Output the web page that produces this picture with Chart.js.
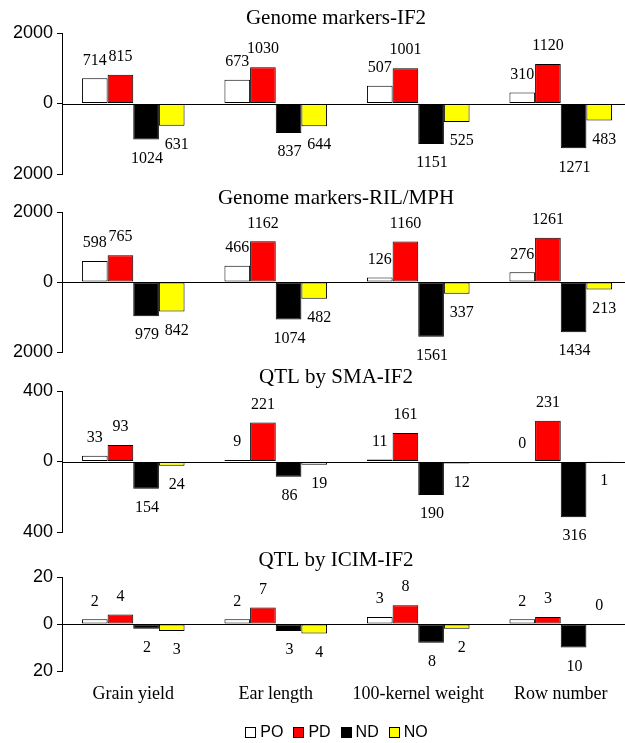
<!DOCTYPE html>
<html>
<head>
<meta charset="utf-8">
<script src="https://cdn.jsdelivr.net/npm/chart.js@4.4.0/dist/chart.umd.min.js"></script>
<style>
  html, body { margin: 0; padding: 0; background: #fff; width: 625px; height: 743px; overflow: hidden; }
  #wrap { position: relative; width: 625px; height: 743px; overflow: hidden; }
  #wrap canvas { position: absolute; left: 0; top: 0; }
</style>
</head>
<body>
<div id="wrap">
  <canvas id="panel0" width="632" height="743"></canvas>
  <canvas id="panel1" width="632" height="743"></canvas>
  <canvas id="panel2" width="632" height="743"></canvas>
  <canvas id="panel3" width="632" height="743"></canvas>
</div>
<script>
// categories + series
const categories = ['Grain yield', 'Ear length', '100-kernel weight', 'Row number'];
const seriesNames = ['PO', 'PD', 'ND', 'NO'];
const seriesColors = ['#ffffff', '#ff0000', '#000000', '#ffff00'];

// panel titles and y axis limits (ticks are -max, 0, max)
const panelTitles = ['Genome markers-IF2', 'Genome markers-RIL/MPH', 'QTL by SMA-IF2', 'QTL by ICIM-IF2'];
const yMax = [2000, 2000, 400, 20];

// Genome markers-IF2 (ND / NO are drawn downwards)
const markersIF2_PO = [714, 673, 507, 310];
const markersIF2_PD = [815, 1030, 1001, 1120];
const markersIF2_ND = [-1024, -837, -1151, -1271];
const markersIF2_NO = [-631, -644, -525, -483];

// Genome markers-RIL/MPH
const markersRIL_PO = [598, 466, 126, 276];
const markersRIL_PD = [765, 1162, 1160, 1261];
const markersRIL_ND = [-979, -1074, -1561, -1434];
const markersRIL_NO = [-842, -482, -337, -213];

// QTL by SMA-IF2
const qtlSMA_PO = [33, 9, 11, 0];
const qtlSMA_PD = [93, 221, 161, 231];
const qtlSMA_ND = [-154, -86, -190, -316];
const qtlSMA_NO = [-24, -19, -12, -1];

// QTL by ICIM-IF2
const qtlICIM_PO = [2, 2, 3, 2];
const qtlICIM_PD = [4, 7, 8, 3];
const qtlICIM_ND = [-2, -3, -8, -10];
const qtlICIM_NO = [-3, -4, -2, 0];

const panelData = [
    [markersIF2_PO, markersIF2_PD, markersIF2_ND, markersIF2_NO],
    [markersRIL_PO, markersRIL_PD, markersRIL_ND, markersRIL_NO],
    [qtlSMA_PO, qtlSMA_PD, qtlSMA_ND, qtlSMA_NO],
    [qtlICIM_PO, qtlICIM_PD, qtlICIM_ND, qtlICIM_NO]
];

// layout of each panel on the page (plot area top / bottom, title line)
const plotTop = [33, 212, 391, 577];
const plotBottom = [174, 352, 532, 671];
const titleY = [18, 198, 377, 560];

const SERIF = "'Liberation Serif', 'Times New Roman', serif";
const SANS = "'Liberation Sans', Arial, sans-serif";

// draws zero line, value labels, panel title and (on last panel) the legend
const decorPlugin = {
    id: 'decor',
    beforeDatasetsDraw(chart) {
        const { ctx, chartArea } = chart;
        const y0 = Math.round(chart.scales.y.getPixelForValue(0)) + 0.5;
        ctx.save();
        ctx.strokeStyle = '#000';
        ctx.lineWidth = 1;
        ctx.beginPath();
        ctx.moveTo(chartArea.left, y0);
        ctx.lineTo(chartArea.right, y0);
        ctx.stroke();
        ctx.restore();
    },
    afterDatasetsDraw(chart, args, opts) {
        const ctx = chart.ctx;
        ctx.save();
        ctx.fillStyle = '#000';
        ctx.textAlign = 'center';
        ctx.textBaseline = 'middle';

        // value labels
        ctx.font = '16px ' + SERIF;
        chart.data.datasets.forEach((ds, d) => {
            const meta = chart.getDatasetMeta(d);
            meta.data.forEach((bar, i) => {
                const v = ds.data[i];
                let y, dx = 0;
                if (v >= 0) {
                    y = bar.y - 18;
                } else {
                    y = bar.y + 19;
                    if (d === 3) dx = 5;
                    if (d === 2) dx = 1;
                }
                ctx.fillText(String(Math.abs(v)), bar.x + dx, y);
            });
        });

        // panel title
        ctx.font = '21px ' + SERIF;
        ctx.fillText(opts.title, 336, opts.titleY);

        // legend under the last panel
        if (opts.legend) {
            ctx.font = '16px ' + SANS;
            const box = 10, gap = 5, spacing = 10;
            const items = chart.data.datasets.map(ds => ({
                label: ds.label, color: ds.backgroundColor, w: ctx.measureText(ds.label).width
            }));
            let total = items.reduce((s, it) => s + box + gap + it.w, 0) + spacing * (items.length - 1);
            let x = 336.5 - total / 2;
            const ly = 732;
            ctx.textAlign = 'left';
            items.forEach(it => {
                ctx.fillStyle = it.color;
                ctx.fillRect(Math.round(x) + 0.5, ly - box / 2 + 0.5, box, box);
                ctx.strokeStyle = '#000';
                ctx.lineWidth = 1;
                ctx.strokeRect(Math.round(x) + 0.5, ly - box / 2 + 0.5, box, box);
                ctx.fillStyle = '#000';
                ctx.fillText(it.label, x + box + gap, ly + 1);
                x += box + gap + it.w + spacing;
            });
        }
        ctx.restore();
    }
};

function buildPanel(p) {
    const isLast = p === panelData.length - 1;
    const canvas = document.getElementById('panel' + p);
    // x axis always reserves this height (labels only shown on the last panel)
    const xHeight = 40;

    new Chart(canvas.getContext('2d'), {
        type: 'bar',
        data: {
            labels: categories,
            datasets: seriesNames.map((name, s) => ({
                label: name,
                data: panelData[p][s],
                backgroundColor: seriesColors[s],
                borderColor: '#000',
                borderWidth: 1,
                borderSkipped: false,
                barPercentage: 1,
                categoryPercentage: 0.72
            }))
        },
        options: {
            responsive: false,
            animation: false,
            events: [],
            layout: {
                padding: {
                    left: 0,
                    right: 0,
                    top: plotTop[p],
                    bottom: 743 - plotBottom[p] - xHeight
                }
            },
            plugins: {
                legend: { display: false },
                tooltip: { enabled: false },
                decor: { title: panelTitles[p], titleY: titleY[p], legend: isLast }
            },
            scales: {
                x: {
                    display: isLast,
                    offset: true,
                    grid: { display: false, drawTicks: false },
                    border: { display: false },
                    ticks: { color: '#000', font: { family: SERIF, size: 18 }, padding: 12, maxRotation: 0, autoSkip: false },
                    afterFit(scale) { scale.height = xHeight; }
                },
                y: {
                    min: -yMax[p],
                    max: yMax[p],
                    grid: { drawOnChartArea: false, drawTicks: true, tickLength: 5, color: '#000' },
                    border: { display: true, color: '#000', width: 1 },
                    ticks: {
                        stepSize: yMax[p],
                        color: '#000',
                        padding: 4,
                        font: { family: SANS, size: 18 },
                        callback: (value) => Math.abs(value)
                    },
                    afterFit(scale) { scale.width = 62; }
                }
            }
        },
        plugins: [decorPlugin]
    });
}

document.addEventListener('DOMContentLoaded', () => {
    for (let p = 0; p < panelData.length; p++) buildPanel(p);
});
</script>
</body>
</html>
